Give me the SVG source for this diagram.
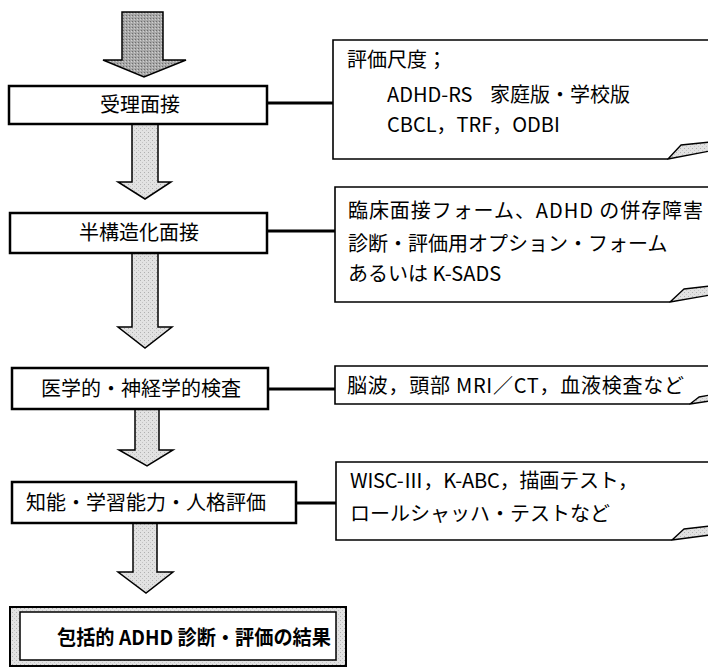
<svg xmlns="http://www.w3.org/2000/svg" width="708" height="667" viewBox="0 0 708 667">
<defs>
<pattern id="dots" width="4" height="4" patternUnits="userSpaceOnUse">
<rect width="4" height="4" fill="#e2e2e2"/>
<rect x="0" y="0" width="1" height="1" fill="#b0b0b0"/>
<rect x="2" y="2" width="1" height="1" fill="#c4c4c4"/>
</pattern>
<pattern id="dark" width="3" height="3" patternUnits="userSpaceOnUse">
<rect width="3" height="3" fill="#a8a8a8"/>
<rect x="0" y="0" width="1" height="1" fill="#6e6e6e"/>
<rect x="2" y="1" width="1" height="1" fill="#d0d0d0"/>
</pattern>
</defs>
<style>
.box{fill:#fff;stroke:#000;stroke-width:2.5}
.arrow{fill:url(#dots);stroke:#000;stroke-width:1.5;stroke-linejoin:miter}
.note{fill:#fff;stroke:#000;stroke-width:1.6}
.curl{fill:url(#dots);stroke:#000;stroke-width:1.4;stroke-linejoin:round}
.conn{stroke:#000;stroke-width:3;fill:none}
text{font-family:"Noto Sans CJK JP","Noto Sans",sans-serif;font-size:20px;fill:#000}
.c{text-anchor:middle}
.b{font-weight:bold}
</style>

<g id="arrows">
<polygon class="arrow" style="fill:url(#dark)" points="122,12 163,12 163,60 186,60 144,77 103,60 122,60"/>
<polygon class="arrow" points="132,124 158,124 158,182 171,182 145,199 118,182 132,182"/>
<polygon class="arrow" points="132,253 158,253 158,327 172,327 145,348 118,327 132,327"/>
<polygon class="arrow" points="135,409 159,409 159,450 173,450 147,466 119,450 135,450"/>
<polygon class="arrow" points="133,523 157,523 157,572 173,572 146,593 118,572 133,572"/>
</g>

<g id="connectors">
<line class="conn" x1="267" y1="103" x2="334" y2="103"/>
<line class="conn" x1="267" y1="231" x2="336" y2="231"/>
<line class="conn" x1="268" y1="389" x2="336" y2="389"/>
<line class="conn" x1="296" y1="503" x2="337" y2="503"/>
</g>

<g id="node-intake">
<rect class="box" x="9" y="86" width="258" height="38"/>
<text class="c" x="140" y="112">受理面接</text>
</g>

<g id="node-semi">
<rect class="box" x="10" y="213" width="257" height="40"/>
<text class="c" x="139" y="240">半構造化面接</text>
</g>

<g id="node-medical">
<rect class="box" x="12" y="368" width="256" height="41"/>
<text class="c" x="141" y="396">医学的・神経学的検査</text>
</g>

<g id="node-intel">
<rect class="box" x="12" y="482" width="284" height="41"/>
<text class="c" x="146" y="510">知能・学習能力・人格評価</text>
</g>

<g id="node-result">
<rect x="10" y="607" width="336" height="59" fill="url(#dots)" stroke="#000" stroke-width="2"/>
<rect x="20" y="612" width="316" height="48" fill="#fff" stroke="#000" stroke-width="1.5"/>
<text class="b" x="57" y="645" textLength="274" lengthAdjust="spacingAndGlyphs">包括的 ADHD 診断・評価の結果</text>
</g>

<g id="note-scales">
<path class="note" d="M710,40 H333 V159 H668"/>
<path class="curl" d="M668,159 L681,145 L710,142 L710,151 Z"/>
<text x="347" y="67">評価尺度；</text>
<text x="387" y="102">ADHD-RS<tspan x="490">家庭版・学校版</tspan></text>
<text x="387" y="132">CBCL，TRF，ODBI</text>
</g>

<g id="note-interview">
<path class="note" d="M710,187 H335 V302 H670"/>
<path class="curl" d="M670,302 L684,289 L710,286 L710,295 Z"/>
<text x="348" y="218" textLength="355" lengthAdjust="spacing">臨床面接フォーム、ADHD の併存障害</text>
<text x="348" y="251">診断・評価用オプション・フォーム</text>
<text x="348" y="281">あるいは K-SADS</text>
</g>

<g id="note-medical">
<path class="note" d="M710,366 H335 V404 H690"/>
<path class="curl" d="M690,404 L699,397 L710,395 L710,401 Z"/>
<text x="347" y="393" textLength="337" lengthAdjust="spacing">脳波，頭部 MRI／CT，血液検査など</text>
</g>

<g id="note-tests">
<path class="note" d="M710,462 H336 V540 H672"/>
<path class="curl" d="M672,540 L684,529 L710,526 L710,535 Z"/>
<text x="350" y="488" textLength="288" lengthAdjust="spacing">WISC-Ⅲ，K-ABC，描画テスト，</text>
<text x="350" y="521">ロールシャッハ・テストなど</text>
</g>
</svg>
